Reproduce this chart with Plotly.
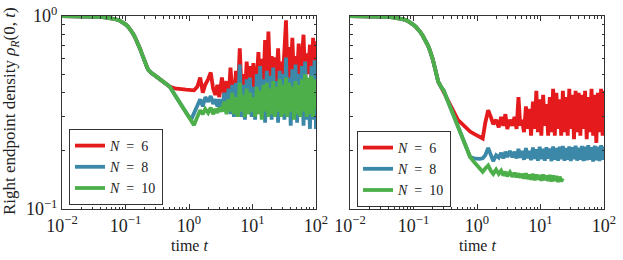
import plotly.graph_objects as go

# ---------------- data ----------------
# left panel
t_left_early = [0.01, 0.02, 0.03, 0.04, 0.05, 0.06, 0.07, 0.08, 0.09, 0.1,
                0.11, 0.12, 0.13, 0.14, 0.15, 0.16, 0.17, 0.18, 0.19, 0.2,
                0.21, 0.22, 0.23, 0.24, 0.26, 0.3, 0.35, 0.4, 0.45, 0.5]
common_left_early = [1.0, 0.999, 0.996, 0.99, 0.982, 0.973, 0.962, 0.948, 0.93, 0.905,
                     0.88, 0.85, 0.815, 0.78, 0.745, 0.71, 0.675, 0.64, 0.607, 0.58,
                     0.56, 0.54, 0.525, 0.515, 0.505, 0.488, 0.47, 0.455, 0.442, 0.43]
t_left_mid = [0.6, 0.7, 0.8, 0.9, 1.0, 1.1, 1.2]
red_left_mid = [0.422, 0.418, 0.416, 0.415, 0.414, 0.413, 0.412]
blue_left_mid = [0.39, 0.36, 0.335, 0.312, 0.30, 0.294, 0.315]
green_left_mid = [0.39, 0.36, 0.335, 0.31, 0.295, 0.28, 0.272]

t_late = [1.35, 1.5, 1.65, 1.8, 2.0, 2.2, 2.4, 2.6, 2.8, 3.0,
          3.3, 3.6, 3.9, 4.2, 4.5, 4.8, 5.1, 5.5, 5.9, 6.3,
          6.7, 7.1, 7.6, 8.1, 8.6, 9.1, 9.7, 10.3, 11, 11.7,
          12.4, 13.2, 14, 14.9, 15.8, 16.8, 17.8, 18.9, 20, 21.2,
          22.5, 23.9, 25.3, 26.8, 28.4, 30, 31.8, 33.7, 35.7, 37.8,
          40, 42.4, 44.9, 47.6, 50.4, 53.4, 56.6, 60, 63.6, 67.4,
          71.4, 75.7, 80.2, 85, 90, 95, 100]

red_left_late = [0.43, 0.48, 0.40, 0.44, 0.47, 0.51, 0.42, 0.39, 0.44, 0.38,
                 0.48, 0.39, 0.46, 0.37, 0.54, 0.40, 0.38, 0.52, 0.41, 0.68,
                 0.42, 0.50, 0.39, 0.58, 0.42, 0.55, 0.40, 0.57, 0.43, 0.48,
                 0.65, 0.42, 0.60, 0.45, 0.75, 0.44, 0.83, 0.47, 0.62, 0.43,
                 0.61, 0.46, 0.68, 0.44, 0.58, 0.48, 0.66, 0.95, 0.45, 0.69,
                 0.47, 0.77, 0.46, 0.62, 0.49, 0.72, 0.45, 0.66, 0.80, 0.47,
                 0.64, 0.50, 0.71, 0.46, 0.77, 0.52, 0.74]
blue_left_late = [0.34, 0.37, 0.34, 0.38, 0.36, 0.385, 0.35, 0.37, 0.34, 0.37,
                  0.33, 0.40, 0.32, 0.42, 0.31, 0.44, 0.30, 0.45, 0.33, 0.56,
                  0.30, 0.44, 0.29, 0.47, 0.31, 0.48, 0.30, 0.43, 0.29, 0.50,
                  0.32, 0.55, 0.30, 0.47, 0.28, 0.52, 0.31, 0.49, 0.29, 0.54,
                  0.30, 0.46, 0.28, 0.52, 0.31, 0.50, 0.29, 0.61, 0.30, 0.48,
                  0.27, 0.53, 0.30, 0.56, 0.28, 0.50, 0.31, 0.55, 0.27, 0.58,
                  0.29, 0.47, 0.26, 0.55, 0.29, 0.59, 0.26]
green_left_late = [0.30, 0.325, 0.31, 0.33, 0.315, 0.335, 0.31, 0.33, 0.315, 0.335,
                   0.32, 0.36, 0.31, 0.37, 0.32, 0.40, 0.31, 0.38, 0.30, 0.45,
                   0.32, 0.39, 0.30, 0.42, 0.31, 0.40, 0.32, 0.38, 0.30, 0.43,
                   0.31, 0.41, 0.29, 0.44, 0.32, 0.45, 0.30, 0.42, 0.31, 0.46,
                   0.30, 0.43, 0.32, 0.47, 0.30, 0.44, 0.31, 0.48, 0.30, 0.45,
                   0.32, 0.43, 0.29, 0.46, 0.31, 0.44, 0.30, 0.47, 0.32, 0.50,
                   0.30, 0.48, 0.31, 0.49, 0.30, 0.47, 0.33]

# right panel
t_right_early = [0.01, 0.02, 0.03, 0.04, 0.05, 0.06, 0.07, 0.08, 0.09, 0.1,
                 0.11, 0.12, 0.13, 0.14, 0.15, 0.16, 0.17, 0.18, 0.19, 0.2,
                 0.22, 0.245, 0.27]
common_right_early = [1.0, 0.999, 0.996, 0.99, 0.982, 0.972, 0.96, 0.945, 0.925, 0.90,
                      0.875, 0.85, 0.82, 0.79, 0.76, 0.73, 0.70, 0.667, 0.635, 0.60,
                      0.53, 0.457, 0.43]
t_right_mid = [0.3, 0.35, 0.4, 0.45, 0.5, 0.6, 0.7, 0.78, 0.9, 1.0, 1.1, 1.23]
red_right_mid = [0.40, 0.365, 0.335, 0.31, 0.29, 0.272, 0.26, 0.252, 0.245, 0.24, 0.236, 0.232]
blue_right_mid = [0.41, 0.36, 0.323, 0.293, 0.269, 0.232, 0.205, 0.186, 0.183, 0.182, 0.182, 0.183]
green_right_mid = [0.41, 0.36, 0.323, 0.293, 0.269, 0.232, 0.205, 0.186, 0.175, 0.168, 0.162, 0.156]

red_right_late = [0.28, 0.325, 0.30, 0.275, 0.29, 0.265, 0.30, 0.27, 0.31, 0.26,
                  0.29, 0.27, 0.30, 0.26, 0.38, 0.27, 0.29, 0.25, 0.34, 0.26,
                  0.33, 0.24, 0.36, 0.26, 0.41, 0.25, 0.37, 0.24, 0.39, 0.27,
                  0.35, 0.24, 0.38, 0.25, 0.42, 0.24, 0.40, 0.26, 0.37, 0.24,
                  0.41, 0.25, 0.38, 0.24, 0.42, 0.26, 0.39, 0.23, 0.41, 0.25,
                  0.40, 0.24, 0.39, 0.26, 0.41, 0.23, 0.38, 0.25, 0.42, 0.24,
                  0.39, 0.22, 0.40, 0.25, 0.42, 0.24, 0.41]
blue_right_late = [0.19, 0.207, 0.19, 0.177, 0.19, 0.185, 0.195, 0.183, 0.198, 0.186,
                   0.20, 0.185, 0.198, 0.183, 0.205, 0.184, 0.20, 0.18, 0.207, 0.183,
                   0.20, 0.179, 0.208, 0.182, 0.204, 0.178, 0.21, 0.181, 0.205, 0.178,
                   0.209, 0.182, 0.206, 0.177, 0.211, 0.18, 0.207, 0.178, 0.21, 0.181,
                   0.212, 0.178, 0.207, 0.18, 0.211, 0.177, 0.209, 0.181, 0.213, 0.178,
                   0.208, 0.18, 0.212, 0.177, 0.21, 0.179, 0.214, 0.18, 0.209, 0.176,
                   0.213, 0.179, 0.21, 0.177, 0.214, 0.18, 0.211]
green_right_late = [0.162, 0.168, 0.158, 0.152, 0.16, 0.152, 0.158, 0.149, 0.156, 0.148,
                    0.155, 0.147, 0.154, 0.146, 0.153, 0.145, 0.152, 0.144, 0.153, 0.143,
                    0.151, 0.142, 0.152, 0.141, 0.151, 0.142, 0.15, 0.14, 0.151, 0.141,
                    0.149, 0.14, 0.15, 0.139, 0.149, 0.14, 0.148, 0.138, 0.147, 0.139,
                    0.144]

series_names = ["<i>N</i>\u2002=\u20026", "<i>N</i>\u2002=\u20028", "<i>N</i>\u2002=\u200210"]
colors = ["#e41a1c", "#3b88a8", "#4daf4a"]

x_tickvals = [0.01, 0.1, 1, 10, 100]
x_ticktext = ["10<sup>\u22122</sup>", "10<sup>\u22121</sup>", "10<sup>0</sup>",
              "10<sup>1</sup>", "10<sup>2</sup>"]
y_tickvals = [0.1, 1]
y_ticktext = ["10<sup>\u22121</sup>", "10<sup>0</sup>"]

# ---------------- assemble ----------------
t_left = t_left_early + t_left_mid + t_late
left_series = [
    common_left_early + red_left_mid + red_left_late,
    common_left_early + blue_left_mid + blue_left_late,
    common_left_early + green_left_mid + green_left_late,
]
t_right = t_right_early + t_right_mid + t_late
right_series = [
    common_right_early + red_right_mid + red_right_late,
    common_right_early + blue_right_mid + blue_right_late,
    common_right_early + green_right_mid + green_right_late,
]

FONT = "Liberation Serif"
W, H = 623, 260


def px_x(p):
    return p / W


def px_y(p):
    return 1 - p / H


fig = go.Figure()

for i in range(3):
    ys = left_series[i]
    fig.add_trace(go.Scatter(x=t_left[:len(ys)], y=ys, mode="lines", name=series_names[i],
                             line=dict(color=colors[i], width=3.8), xaxis="x", yaxis="y",
                             legend="legend"))
for i in range(3):
    ys = right_series[i]
    fig.add_trace(go.Scatter(x=t_right[:len(ys)], y=ys, mode="lines", name=series_names[i],
                             line=dict(color=colors[i], width=3.8), xaxis="x2", yaxis="y2",
                             legend="legend2"))

minor_x = [m * 10 ** e for e in range(-2, 2) for m in range(2, 10)]
minor_y = [m / 10 for m in range(2, 10)]

axis_common = dict(type="log", showgrid=False, zeroline=False, showline=True,
                   linecolor="#333333", linewidth=1, mirror="allticks", ticks="inside",
                   ticklen=5, tickcolor="#333333", automargin=False,
                   tickfont=dict(family=FONT, size=18, color="#222222"))

x_dom1 = [px_x(62), px_x(316)]
x_dom2 = [px_x(350), px_x(604)]
y_dom = [px_y(209), px_y(16)]


def minor(vals):
    return dict(tickmode="array", tickvals=vals, ticks="inside", ticklen=2.5,
                tickcolor="#333333")


legend_style = dict(xanchor="left", yanchor="bottom",
                    bgcolor="white", bordercolor="#333333", borderwidth=1,
                    font=dict(family=FONT, size=14, color="#222222"),
                    tracegroupgap=0, itemwidth=30)

fig.update_layout(
    width=W, height=H, margin=dict(l=0, r=0, t=0, b=0, autoexpand=False),
    paper_bgcolor="white", plot_bgcolor="white",
    xaxis=dict(axis_common, domain=x_dom1, anchor="y", range=[-2, 2],
               tickmode="array", tickvals=x_tickvals, ticktext=x_ticktext,
               minor=minor(minor_x)),
    yaxis=dict(axis_common, domain=y_dom, anchor="x", range=[-1, 0],
               tickmode="array", tickvals=y_tickvals, ticktext=y_ticktext,
               minor=minor(minor_y)),
    xaxis2=dict(axis_common, domain=x_dom2, anchor="y2", range=[-2, 2],
                tickmode="array", tickvals=x_tickvals, ticktext=x_ticktext,
                minor=minor(minor_x)),
    yaxis2=dict(axis_common, domain=y_dom, anchor="x2", range=[-1, 0],
                tickmode="array", tickvals=y_tickvals, ticktext=["", ""],
                minor=minor(minor_y)),
    legend=dict(legend_style, x=px_x(69), y=px_y(205)),
    legend2=dict(legend_style, x=px_x(357), y=px_y(207)),
    annotations=[
        dict(text="Right endpoint density <i>\u03c1</i><sub><i>R</i></sub>(0, <i>t</i>)",
             x=px_x(11), y=px_y(111), xref="paper", yref="paper", textangle=-90,
             showarrow=False, font=dict(family=FONT, size=17, color="#222222"),
             xanchor="center", yanchor="middle"),
        dict(text="time <i>t</i>", x=px_x(189), y=px_y(245), xref="paper", yref="paper",
             showarrow=False, font=dict(family=FONT, size=16, color="#222222"),
             xanchor="center", yanchor="middle"),
        dict(text="time <i>t</i>", x=px_x(477), y=px_y(245), xref="paper", yref="paper",
             showarrow=False, font=dict(family=FONT, size=16, color="#222222"),
             xanchor="center", yanchor="middle"),
    ],
)

# remove the browser's default 8px page margin so the figure sits at the window origin
fig.write_html("out.html", config={"displayModeBar": False},
               post_script="document.body.style.margin='0px';")
